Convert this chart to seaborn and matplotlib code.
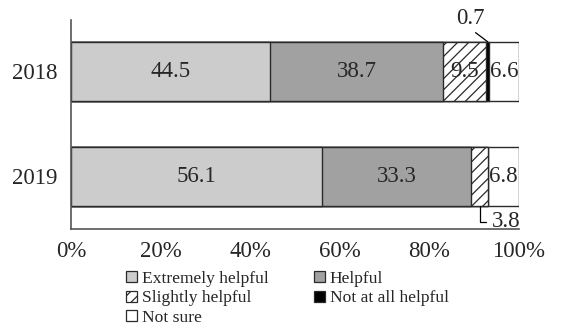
import numpy as np
import pandas as pd
import matplotlib
matplotlib.use("Agg")
import matplotlib.pyplot as plt
from matplotlib.patches import Patch
import seaborn as sns

years = ["2018", "2019"]
categories = ["Extremely helpful", "Helpful", "Slightly helpful", "Not at all helpful", "Not sure"]
values_2018 = [44.5, 38.7, 9.5, 0.7, 6.6]
values_2019 = [56.1, 33.3, 3.8, 0.0, 6.8]
xtick_values = [0, 20, 40, 60, 80, 100]

colors = ["#cbcccb", "#a0a1a0", "white", "black", "white"]
hatches = [None, None, "///", None, None]
edge = "#2a2a2a"

sns.set_style("white")
plt.rcParams["font.family"] = ["Liberation Serif", "DejaVu Serif"]
plt.rcParams["hatch.linewidth"] = 0.9
plt.rcParams["hatch.color"] = "black"

df = pd.DataFrame([values_2018, values_2019], index=years, columns=categories)
cum = df.cumsum(axis=1)

fig = plt.figure(figsize=(5.65, 3.29), dpi=100)
ax = fig.add_axes([71 / 565, 1 - 229.3 / 329, 447.7 / 565, 209.3 / 329])

# stacked bars: draw cumulative totals from the longest down to the shortest
for i in reversed(range(len(categories))):
    cat = categories[i]
    plot_df = pd.DataFrame({"year": years, "total": cum[cat].values})
    sns.barplot(data=plot_df, x="total", y="year", orient="h", ax=ax,
                color=colors[i], width=0.561, edgecolor=edge, linewidth=1.0,
                hatch=hatches[i], saturation=1, errorbar=None)

ax.set_xlim(0, 100)
ax.set_ylim(1.504, -0.487)
ax.set_xlabel("")
ax.set_ylabel("")
ax.set_xticks(xtick_values)
ax.set_xticklabels([f"{v}%" for v in xtick_values])
ax.tick_params(axis="x", length=0, pad=8.5, labelsize=16.5)
ax.tick_params(axis="y", length=0, pad=10, labelsize=16.5)
for s in ["top", "right"]:
    ax.spines[s].set_visible(False)
for s in ["left", "bottom"]:
    ax.spines[s].set_color("#555555")
    ax.spines[s].set_linewidth(1.2)

# value labels inside the segments
half = 0.561 / 2
lab_size = 16.5
for row, year in enumerate(years):
    vals = df.loc[year].values
    ends = cum.loc[year].values
    for j, v in enumerate(vals):
        if v <= 0:
            continue
        mid = ends[j] - v / 2
        if v >= 6:
            ax.text(mid, row, f"{v:.1f}", ha="center", va="center", fontsize=lab_size)
        elif row == 0:
            ax.annotate(f"{v:.1f}", xy=(mid, row - half), xytext=(-12.6, 9.5),
                        textcoords="offset points", ha="center", va="bottom",
                        fontsize=lab_size, annotation_clip=False,
                        arrowprops=dict(arrowstyle="-", color="black", lw=0.9,
                                        relpos=(0.5, 0), shrinkA=1, shrinkB=0))
        else:
            ax.annotate(f"{v:.1f}", xy=(mid, row + half), xytext=(8.5, -11.5),
                        textcoords="offset points", ha="left", va="center",
                        fontsize=lab_size, annotation_clip=False,
                        arrowprops=dict(arrowstyle="-", color="black", lw=0.9,
                                        relpos=(0, 0.5), shrinkA=2, shrinkB=0,
                                        connectionstyle="angle,angleA=0,angleB=90,rad=0"))

# legend laid out row by row in two columns
handles = [Patch(facecolor=colors[i], edgecolor=edge, hatch=hatches[i], linewidth=0.9,
                 label=categories[i]) for i in range(len(categories))]
order = [0, 2, 4, 1, 3]
fig.legend([handles[i] for i in order], [categories[i] for i in order],
           loc="upper left", bbox_to_anchor=(126 / 565, 1 - 271 / 329), ncol=2,
           frameon=False, fontsize=12.6, handlelength=0.6, handleheight=0.6,
           handletextpad=0.3, columnspacing=2.6, labelspacing=0.2,
           borderpad=0, borderaxespad=0)

fig.savefig("out.png", dpi=100)
